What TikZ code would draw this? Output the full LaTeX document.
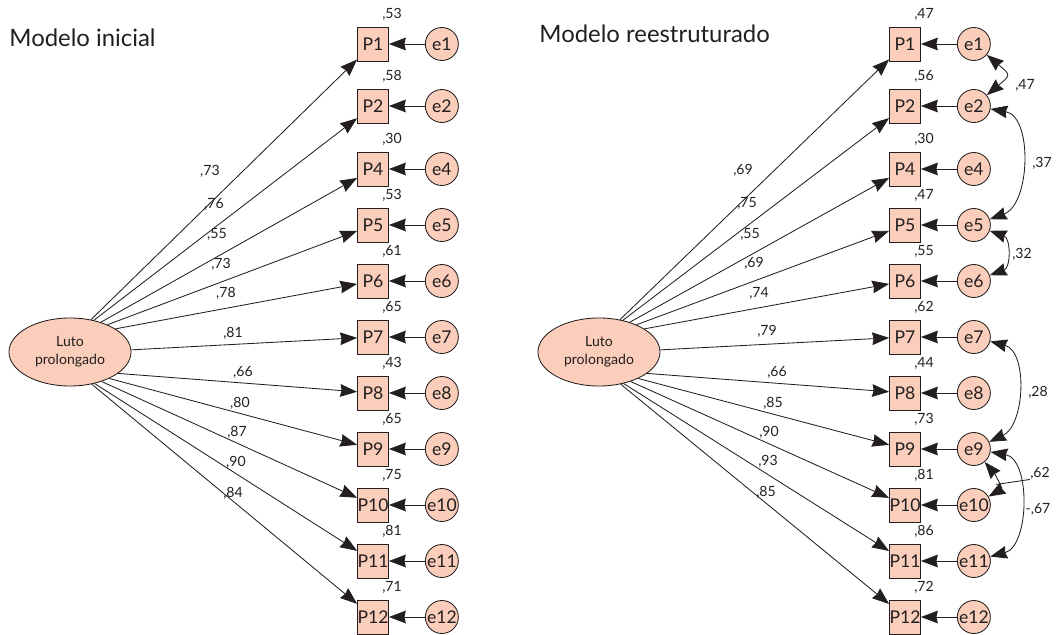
\documentclass[tikz,border=0pt]{standalone}
\usepackage{fontspec}
\setmainfont{Lato}
\usetikzlibrary{arrows.meta, positioning, shapes.geometric}
\definecolor{peach}{RGB}{250,206,186}
\definecolor{ink}{RGB}{35,31,32}

\begin{document}
\begin{tikzpicture}[x=0.025cm, y=0.025cm,
    item/.style={rectangle, draw=ink, fill=peach, minimum width=0.775cm, minimum height=0.85cm, inner sep=0pt, font=\fontsize{12.5}{14}\selectfont},
    err/.style={circle, draw=ink, fill=peach, minimum size=0.825cm, inner sep=0pt, font=\fontsize{12.5}{14}\selectfont},
    factor/.style={ellipse, draw=ink, fill=peach, minimum width=3.05cm, minimum height=1.7cm, inner sep=0pt, align=center, font=\fontsize{10}{13}\selectfont},
    num/.style={inner sep=0pt, font=\fontsize{10}{11}\selectfont},
    title/.style={inner sep=0pt, anchor=base west, font=\fontsize{17}{20}\selectfont},
    >={Stealth[length=12pt, width=9pt, inset=1pt]}, line width=0.6pt, ink
    ]
    \useasboundingbox (0,0) rectangle (1061,634);

    % Modelo inicial
    \node[title] (t1) at (9,587) {Modelo inicial};
    \node[factor] (luto) at (70,282) {Luto\\prolongado};

    \node[item] (P1) at (373,590) {P1};
    \node[item] (P2) at (373,528) {P2};
    \node[item] (P4) at (373,465) {P4};
    \node[item] (P5) at (373,409) {P5};
    \node[item] (P6) at (373,353) {P6};
    \node[item] (P7) at (373,297) {P7};
    \node[item] (P8) at (373,241) {P8};
    \node[item] (P9) at (373,185) {P9};
    \node[item] (P10) at (373,129) {P10};
    \node[item] (P11) at (373,73) {P11};
    \node[item] (P12) at (373,17) {P12};

    \node[err, right=0.9cm of P1] (e1) {e1};
    \node[err, right=0.9cm of P2] (e2) {e2};
    \node[err, right=0.9cm of P4] (e4) {e4};
    \node[err, right=0.9cm of P5] (e5) {e5};
    \node[err, right=0.9cm of P6] (e6) {e6};
    \node[err, right=0.9cm of P7] (e7) {e7};
    \node[err, right=0.9cm of P8] (e8) {e8};
    \node[err, right=0.9cm of P9] (e9) {e9};
    \node[err, right=0.9cm of P10] (e10) {e10};
    \node[err, right=0.9cm of P11] (e11) {e11};
    \node[err, right=0.9cm of P12] (e12) {e12};

    \node[num] (r1) at ([xshift=0.475cm, yshift=0.3cm]P1.north) {,53};
    \node[num] (r2) at ([xshift=0.475cm, yshift=0.3cm]P2.north) {,58};
    \node[num] (r4) at ([xshift=0.475cm, yshift=0.3cm]P4.north) {,30};
    \node[num] (r5) at ([xshift=0.475cm, yshift=0.3cm]P5.north) {,53};
    \node[num] (r6) at ([xshift=0.475cm, yshift=0.3cm]P6.north) {,61};
    \node[num] (r7) at ([xshift=0.475cm, yshift=0.3cm]P7.north) {,65};
    \node[num] (r8) at ([xshift=0.475cm, yshift=0.3cm]P8.north) {,43};
    \node[num] (r9) at ([xshift=0.475cm, yshift=0.3cm]P9.north) {,65};
    \node[num] (r10) at ([xshift=0.475cm, yshift=0.3cm]P10.north) {,75};
    \node[num] (r11) at ([xshift=0.475cm, yshift=0.3cm]P11.north) {,81};
    \node[num] (r12) at ([xshift=0.475cm, yshift=0.3cm]P12.north) {,71};

    \node[num] (l1) at (210,463) {,73};
    \node[num] (l2) at (214,430) {,76};
    \node[num] (l4) at (217,400) {,55};
    \node[num] (l5) at (221,370) {,73};
    \node[num] (l6) at (226,341) {,78};
    \node[num] (l7) at (233,301) {,81};
    \node[num] (l8) at (243,262) {,66};
    \node[num] (l9) at (240,231) {,80};
    \node[num] (l10) at (237,202) {,87};
    \node[num] (l11) at (236,172) {,90};
    \node[num] (l12) at (233,141) {,84};

    \draw[->] (luto.57) -- (P1);
    \draw[->] (luto.53) -- (P2);
    \draw[->] (luto.44) -- (P4);
    \draw[->] (luto.36) -- (P5);
    \draw[->] (luto.27) -- (P6);
    \draw[->] (luto.2) -- (P7);
    \draw[->] (luto.-24) -- (P8);
    \draw[->] (luto.-34) -- (P9);
    \draw[->] (luto.-43) -- (P10);
    \draw[->] (luto.-52) -- (P11);
    \draw[->] (luto.-56) -- (P12);

    \draw[->] (e1) -- (P1);
    \draw[->] (e2) -- (P2);
    \draw[->] (e4) -- (P4);
    \draw[->] (e5) -- (P5);
    \draw[->] (e6) -- (P6);
    \draw[->] (e7) -- (P7);
    \draw[->] (e8) -- (P8);
    \draw[->] (e9) -- (P9);
    \draw[->] (e10) -- (P10);
    \draw[->] (e11) -- (P11);
    \draw[->] (e12) -- (P12);

    % Modelo reestruturado
    \node[title] (t2) at (539,591) {Modelo reestruturado};
    \node[factor] (lutoR) at (599,282) {Luto\\prolongado};

    \node[item] (R1) at (905,590) {P1};
    \node[item] (R2) at (905,528) {P2};
    \node[item] (R4) at (905,465) {P4};
    \node[item] (R5) at (905,409) {P5};
    \node[item] (R6) at (905,353) {P6};
    \node[item] (R7) at (905,297) {P7};
    \node[item] (R8) at (905,241) {P8};
    \node[item] (R9) at (905,185) {P9};
    \node[item] (R10) at (905,129) {P10};
    \node[item] (R11) at (905,73) {P11};
    \node[item] (R12) at (905,17) {P12};

    \node[err, right=0.9cm of R1] (f1) {e1};
    \node[err, right=0.9cm of R2] (f2) {e2};
    \node[err, right=0.9cm of R4] (f4) {e4};
    \node[err, right=0.9cm of R5] (f5) {e5};
    \node[err, right=0.9cm of R6] (f6) {e6};
    \node[err, right=0.9cm of R7] (f7) {e7};
    \node[err, right=0.9cm of R8] (f8) {e8};
    \node[err, right=0.9cm of R9] (f9) {e9};
    \node[err, right=0.9cm of R10] (f10) {e10};
    \node[err, right=0.9cm of R11] (f11) {e11};
    \node[err, right=0.9cm of R12] (f12) {e12};

    \node[num] (s1) at ([xshift=0.475cm, yshift=0.3cm]R1.north) {,47};
    \node[num] (s2) at ([xshift=0.475cm, yshift=0.3cm]R2.north) {,56};
    \node[num] (s4) at ([xshift=0.475cm, yshift=0.3cm]R4.north) {,30};
    \node[num] (s5) at ([xshift=0.475cm, yshift=0.3cm]R5.north) {,47};
    \node[num] (s6) at ([xshift=0.475cm, yshift=0.3cm]R6.north) {,55};
    \node[num] (s7) at ([xshift=0.475cm, yshift=0.3cm]R7.north) {,62};
    \node[num] (s8) at ([xshift=0.475cm, yshift=0.3cm]R8.north) {,44};
    \node[num] (s9) at ([xshift=0.475cm, yshift=0.3cm]R9.north) {,73};
    \node[num] (s10) at ([xshift=0.475cm, yshift=0.3cm]R10.north) {,81};
    \node[num] (s11) at ([xshift=0.475cm, yshift=0.3cm]R11.north) {,86};
    \node[num] (s12) at ([xshift=0.475cm, yshift=0.3cm]R12.north) {,72};

    \node[num] (m1) at (743,464) {,69};
    \node[num] (m2) at (747,431) {,75};
    \node[num] (m4) at (750,400) {,55};
    \node[num] (m5) at (754,371) {,69};
    \node[num] (m6) at (759,341) {,74};
    \node[num] (m7) at (767,303) {,79};
    \node[num] (m8) at (777,262) {,66};
    \node[num] (m9) at (773,231) {,85};
    \node[num] (m10) at (769,202) {,90};
    \node[num] (m11) at (768,173) {,93};
    \node[num] (m12) at (766,142) {,85};

    \draw[->] (lutoR.57) -- (R1);
    \draw[->] (lutoR.53) -- (R2);
    \draw[->] (lutoR.44) -- (R4);
    \draw[->] (lutoR.36) -- (R5);
    \draw[->] (lutoR.27) -- (R6);
    \draw[->] (lutoR.2) -- (R7);
    \draw[->] (lutoR.-24) -- (R8);
    \draw[->] (lutoR.-34) -- (R9);
    \draw[->] (lutoR.-43) -- (R10);
    \draw[->] (lutoR.-52) -- (R11);
    \draw[->] (lutoR.-56) -- (R12);

    \draw[->] (f1) -- (R1);
    \draw[->] (f2) -- (R2);
    \draw[->] (f4) -- (R4);
    \draw[->] (f5) -- (R5);
    \draw[->] (f6) -- (R6);
    \draw[->] (f7) -- (R7);
    \draw[->] (f8) -- (R8);
    \draw[->] (f9) -- (R9);
    \draw[->] (f10) -- (R10);
    \draw[->] (f11) -- (R11);
    \draw[->] (f12) -- (R12);

    % covariancias
    \node[num] (c12) at (1025,549) {,47};
    \node[num] (c25) at (1042,471) {,37};
    \node[num] (c56) at (1022,380) {,32};
    \node[num] (c79) at (1038,242) {,28};
    \node[num] (c910) at (1040,161) {,62};
    \node[num] (c911) at (1038,125) {-,67};

    \draw[<->] (f1) to[out=-40, in=40, looseness=2] (f2);
    \draw[<->] (f2) to[out=-10, in=20] (f5);
    \draw[<->] (f5) to[out=-20, in=20, looseness=1.3] (f6);
    \draw[<->] (f7) to[out=-15, in=25] (f9);
    \draw[<->] (f9) to[out=-50, in=30, looseness=1.2] coordinate[pos=0.6] (k910) (f10);
    \draw[<->] (f9) to[out=-10, in=15] (f11);
    \draw (k910) -- (c910.south west);
\end{tikzpicture}
\end{document}
